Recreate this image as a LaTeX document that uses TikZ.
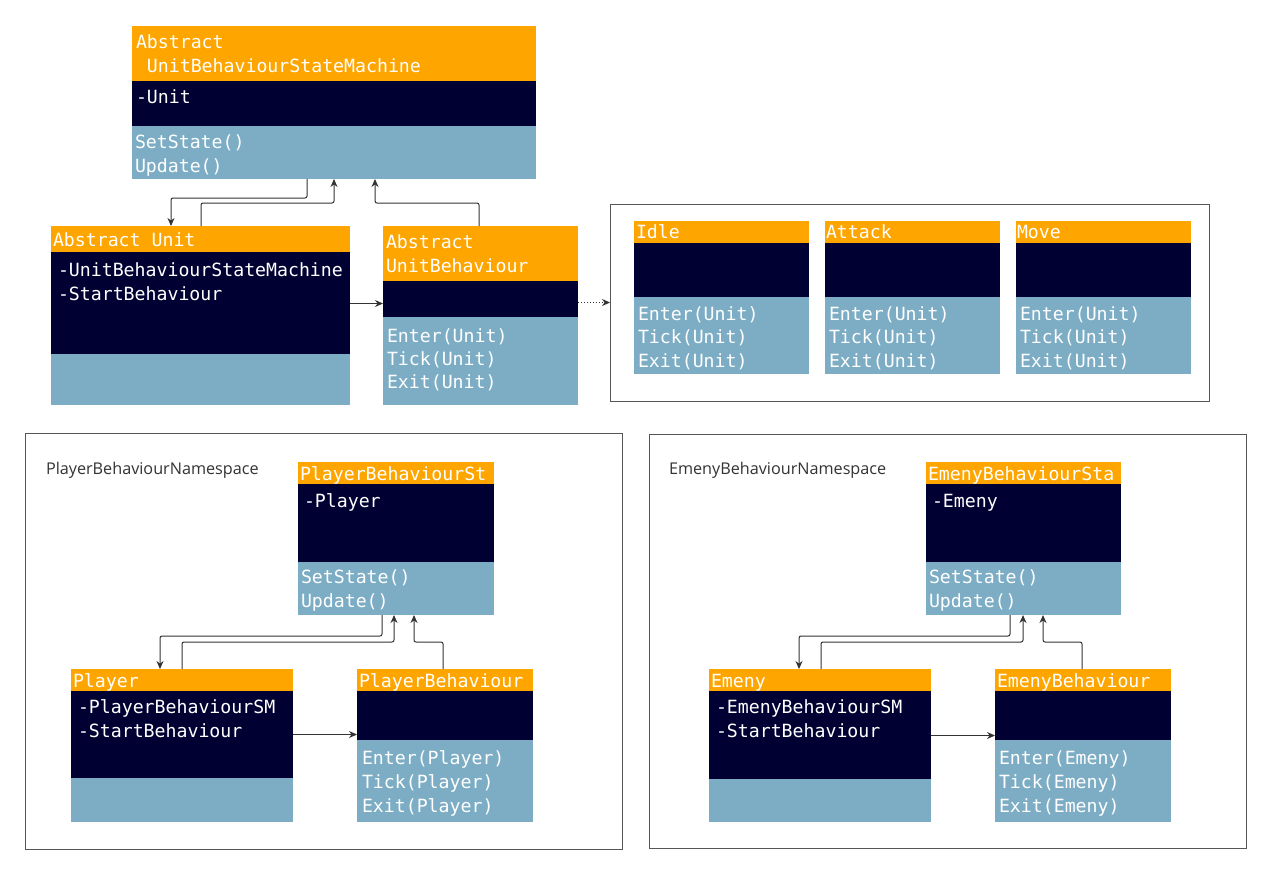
\documentclass[tikz,border=0pt]{standalone}
\usepackage{fontspec}
\usetikzlibrary{arrows.meta}
\newfontfamily\umlmono{DejaVu Sans Mono}
\newfontfamily\nsfont{Open Sans}
\definecolor{hdorange}{HTML}{FFA500}
\definecolor{attrnavy}{HTML}{000033}
\definecolor{opblue}{HTML}{7CADC4}
\definecolor{linegray}{HTML}{333333}
\definecolor{framegray}{HTML}{555555}

% one UML class: header, attribute and operation compartments
% #1 name, #2 x, #3 y, #4 width, #5/#6/#7 compartment heights
\newcommand\umlclass[7]{%
  \node[hdbox, minimum width=#4pt, minimum height=#5pt] (#1-h) at (#2,#3) {};
  \node[attrbox, minimum width=#4pt, minimum height=#6pt] (#1-a) at (#1-h.south west) {};
  \node[opbox, minimum width=#4pt, minimum height=#7pt] (#1-m) at (#1-a.south west) {};
}

\tikzset{
  comp/.style={draw=none, inner sep=0pt, outer sep=0pt, anchor=north west},
  hdbox/.style={comp, fill=hdorange},
  attrbox/.style={comp, fill=attrnavy},
  opbox/.style={comp, fill=opblue},
  frame/.style={draw=framegray, line width=1pt, inner sep=0pt, outer sep=0pt, anchor=north west, fill=white},
  txt/.style={anchor=base west, inner sep=0pt, outer sep=0pt, text=white,
    font=\umlmono\fontsize{18.2}{24}\selectfont},
  nslabel/.style={anchor=base west, inner sep=0pt, outer sep=0pt, text=linegray,
    font=\nsfont\fontsize{16.2}{20}\selectfont},
  conn/.style={draw=linegray, line width=1pt, rounded corners=2pt,
    -{Stealth[length=8pt,width=7pt]}},
  dotconn/.style={draw=linegray, line width=1pt, dash pattern=on 1pt off 2pt,
    -{Stealth[length=8pt,width=7pt]}}
}

\begin{document}
\begin{tikzpicture}[x=1pt, y=-1pt]
\useasboundingbox[fill=white] (0,0) rectangle (1273,871);

% ---------- frames ----------
\node[frame, minimum width=599pt, minimum height=197pt] (states) at (610,204) {};
\node[frame, minimum width=597pt, minimum height=416pt] (pns) at (25,433) {};
\node[frame, minimum width=597pt, minimum height=414pt] (ens) at (649,434) {};

% ---------- abstract layer ----------
\umlclass{sm}{132}{26}{404}{55}{45}{53}
\node[txt] (sm-t1) at (136,48) {Abstract};
\node[txt] (sm-t2) at (136,72) {~UnitBehaviourStateMachine};
\node[txt] (sm-t3) at (136,103) {-Unit};
\node[txt] (sm-t4) at (135,148) {SetState()};
\node[txt] (sm-t5) at (135,172) {Update()};

\umlclass{unit}{51}{226}{299}{26}{102}{51}
\node[txt] (unit-t1) at (53,246) {Abstract Unit};
\node[txt] (unit-t2) at (58,276) {-UnitBehaviourStateMachine};
\node[txt] (unit-t3) at (58,300) {-StartBehaviour};

\umlclass{ub}{383}{226}{195}{55}{36}{88}
\node[txt] (ub-t1) at (386,248) {Abstract};
\node[txt] (ub-t2) at (386,272) {UnitBehaviour};
\node[txt] (ub-t3) at (387,342) {Enter(Unit)};
\node[txt] (ub-t4) at (387,365) {Tick(Unit)};
\node[txt] (ub-t5) at (387,388) {Exit(Unit)};

% ---------- concrete states ----------
\umlclass{idle}{634}{221}{175}{22}{54}{77}
\node[txt] (idle-t1) at (636,238) {Idle};
\node[txt] (idle-t2) at (638,320) {Enter(Unit)};
\node[txt] (idle-t3) at (638,343) {Tick(Unit)};
\node[txt] (idle-t4) at (638,367) {Exit(Unit)};

\umlclass{attack}{825}{221}{175}{22}{54}{77}
\node[txt] (attack-t1) at (826,238) {Attack};
\node[txt] (attack-t2) at (829,320) {Enter(Unit)};
\node[txt] (attack-t3) at (829,343) {Tick(Unit)};
\node[txt] (attack-t4) at (829,367) {Exit(Unit)};

\umlclass{move}{1016}{221}{175}{22}{54}{77}
\node[txt] (move-t1) at (1017,238) {Move};
\node[txt] (move-t2) at (1020,320) {Enter(Unit)};
\node[txt] (move-t3) at (1020,343) {Tick(Unit)};
\node[txt] (move-t4) at (1020,367) {Exit(Unit)};

% ---------- player namespace ----------
\node[nslabel] (pns-label) at (46,474) {PlayerBehaviourNamespace};
\umlclass{psm}{298}{462}{196}{22}{78}{53}
\node[txt] (psm-t1) at (300,480) {PlayerBehaviourSt};
\node[txt] (psm-t2) at (304,507) {-Player};
\node[txt] (psm-t3) at (301,583) {SetState()};
\node[txt] (psm-t4) at (301,607) {Update()};

\umlclass{player}{71}{669}{222}{22}{87}{44}
\node[txt] (player-t1) at (73,687) {Player};
\node[txt] (player-t2) at (78,713) {-PlayerBehaviourSM};
\node[txt] (player-t3) at (78,737) {-StartBehaviour};

\umlclass{pb}{357}{669}{176}{22}{49}{82}
\node[txt] (pb-t1) at (359,687) {PlayerBehaviour};
\node[txt] (pb-t2) at (362,764) {Enter(Player)};
\node[txt] (pb-t3) at (362,788) {Tick(Player)};
\node[txt] (pb-t4) at (362,812) {Exit(Player)};

% ---------- enemy namespace ----------
\node[nslabel] (ens-label) at (669,474) {EmenyBehaviourNamespace};
\umlclass{esm}{926}{462}{195}{22}{78}{53}
\node[txt] (esm-t1) at (928,480) {EmenyBehaviourSta};
\node[txt] (esm-t2) at (932,507) {-Emeny};
\node[txt] (esm-t3) at (929,583) {SetState()};
\node[txt] (esm-t4) at (929,607) {Update()};

\umlclass{emeny}{709}{669}{222}{22}{88}{43}
\node[txt] (emeny-t1) at (711,687) {Emeny};
\node[txt] (emeny-t2) at (716,713) {-EmenyBehaviourSM};
\node[txt] (emeny-t3) at (716,737) {-StartBehaviour};

\umlclass{eb}{995}{669}{176}{22}{49}{82}
\node[txt] (eb-t1) at (997,687) {EmenyBehaviour};
\node[txt] (eb-t2) at (999,764) {Enter(Emeny)};
\node[txt] (eb-t3) at (999,788) {Tick(Emeny)};
\node[txt] (eb-t4) at (999,812) {Exit(Emeny)};

% ---------- connectors ----------
\draw[conn] ([xshift=175pt]sm-m.south west) -- ++(0,19) -| ([xshift=120pt]unit-h.north west);
\draw[conn] ([xshift=150pt]unit-h.north west) -- ++(0,-23) -| ([xshift=202pt]sm-m.south west);
\draw[conn] ([xshift=96pt]ub-h.north west) -- ++(0,-23) -| ([xshift=243pt]sm-m.south west);
\draw[conn] ([yshift=-0.5pt]unit-a.east) -- ([yshift=-0.5pt]unit-a.east -| ub-a.west);
\draw[dotconn] (ub-a.east |- states.west) -- (states.west);

\draw[conn] ([xshift=84pt]psm-m.south west) -- ++(0,21) -| ([xshift=89pt]player-h.north west);
\draw[conn] ([xshift=111pt]player-h.north west) -- ++(0,-27) -| ([xshift=96pt]psm-m.south west);
\draw[conn] ([xshift=86pt]pb-h.north west) -- ++(0,-27) -| ([xshift=116pt]psm-m.south west);
\draw[conn] (player-a.east) -- (player-a.east -| pb-a.west);

\draw[conn] ([xshift=84pt]esm-m.south west) -- ++(0,21) -| ([xshift=90pt]emeny-h.north west);
\draw[conn] ([xshift=112pt]emeny-h.north west) -- ++(0,-27) -| ([xshift=97pt]esm-m.south west);
\draw[conn] ([xshift=87pt]eb-h.north west) -- ++(0,-27) -| ([xshift=117pt]esm-m.south west);
\draw[conn] ([yshift=-0.5pt]emeny-a.east) -- ([yshift=-0.5pt]emeny-a.east -| eb-a.west);
\end{tikzpicture}
\end{document}
